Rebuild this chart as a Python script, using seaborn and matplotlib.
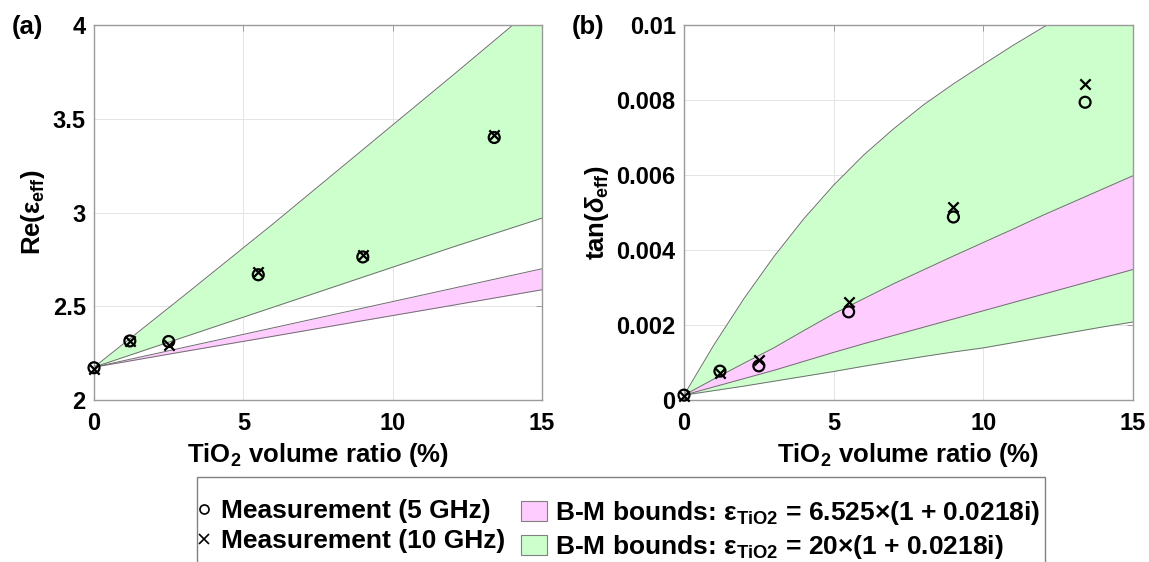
import numpy as np
import pandas as pd
import seaborn as sns
import matplotlib.pyplot as plt
from matplotlib.lines import Line2D
from matplotlib.patches import Patch, Rectangle

# measured points (TiO2 volume ratio in %)
x_meas = [0, 1.2, 2.5, 5.5, 9.0, 13.4]
re_5ghz = [2.172, 2.315, 2.312, 2.668, 2.763, 3.400]
re_10ghz = [2.165, 2.313, 2.295, 2.685, 2.775, 3.415]
tan_5ghz = [0.00013, 0.00077, 0.00091, 0.00235, 0.00488, 0.00794]
tan_10ghz = [0.00012, 0.00072, 0.00108, 0.00261, 0.00514, 0.00843]

# Bergman-Milton bounds, real part
bm_x_re = [0, 3, 6, 9, 12, 15]
re_green_hi = [2.175, 2.555, 2.94, 3.335, 3.73, 4.13]
re_green_lo = [2.175, 2.335, 2.495, 2.655, 2.815, 2.97]
re_pink_hi = [2.175, 2.28, 2.385, 2.49, 2.595, 2.70]
re_pink_lo = [2.175, 2.258, 2.34, 2.423, 2.505, 2.588]

# Bergman-Milton bounds, loss tangent (x1e-3)
bm_x_tan = [0, 1, 2, 3, 4, 5, 6, 7, 8, 9, 10, 11, 12, 13, 14, 15]
tan_green_hi = [0.13, 1.47, 2.70, 3.82, 4.83, 5.73, 6.53, 7.23, 7.87, 8.43,
                8.95, 9.46, 9.94, 10.38, 10.80, 11.20]
tan_pink_hi = [0.13, 0.56, 0.98, 1.39, 1.85, 2.30, 2.70, 3.10, 3.47, 3.84,
               4.20, 4.56, 4.93, 5.28, 5.63, 5.98]
tan_pink_lo = [0.13, 0.35, 0.57, 0.79, 1.03, 1.27, 1.50, 1.72, 1.94, 2.16,
               2.38, 2.60, 2.82, 3.04, 3.26, 3.48]
tan_green_lo = [0.13, 0.25, 0.37, 0.50, 0.63, 0.76, 0.90, 1.03, 1.16, 1.28,
                1.39, 1.53, 1.67, 1.81, 1.95, 2.08]
tan_scale = 1e-3

GREEN = '#ccffcc'
PINK = '#ffccff'
EDGE = '#6e6e6e'
SPINE = '#9a9a9a'

sns.set_theme(style='white')
plt.rcParams['font.family'] = ['Liberation Sans', 'DejaVu Sans']
plt.rcParams['font.weight'] = 'bold'
plt.rcParams['axes.labelweight'] = 'bold'
plt.rcParams['text.color'] = 'black'
plt.rcParams['axes.labelcolor'] = 'black'
plt.rcParams['mathtext.fontset'] = 'custom'
plt.rcParams['mathtext.rm'] = 'Liberation Sans:bold'
plt.rcParams['mathtext.it'] = 'Liberation Sans:bold:italic'
plt.rcParams['mathtext.bf'] = 'Liberation Sans:bold'

fig = plt.figure(figsize=(11.49, 5.62), dpi=100)
ax1 = fig.add_axes([94 / 1149, 1 - 400 / 562, 448 / 1149, 375 / 562])
ax2 = fig.add_axes([684 / 1149, 1 - 400 / 562, 449 / 1149, 375 / 562])


def draw_panel(ax, x, g_lo, g_hi, p_lo, p_hi, y5, y10):
    ax.fill_between(x, g_lo, g_hi, color=GREEN, lw=0, zorder=1)
    ax.fill_between(x, p_lo, p_hi, color=PINK, lw=0, zorder=1.5)
    for yy in (g_lo, g_hi, p_lo, p_hi):
        sns.lineplot(x=x, y=yy, ax=ax, color=EDGE, lw=0.7, zorder=2)
    sns.scatterplot(x=x_meas, y=y5, ax=ax, marker='o', s=62,
                    facecolors='none', edgecolor='black', linewidth=1.6,
                    zorder=4, clip_on=False)
    sns.scatterplot(x=x_meas, y=y10, ax=ax, marker='x', s=55,
                    color='black', linewidth=1.6, zorder=4, clip_on=False)
    ax.set_axisbelow(True)
    ax.grid(True, color='#e4e4e4', lw=0.7)
    for sp in ax.spines.values():
        sp.set_color(SPINE)
        sp.set_linewidth(1.0)
    ax.tick_params(direction='in', length=4, width=0.7, color=SPINE,
                   labelcolor='black', labelsize=17, top=True, right=True, pad=6)
    ax.tick_params(axis='x', pad=9)
    ax.set_xlim(0, 15)
    ax.set_xticks([0, 5, 10, 15])
    ax.set_xlabel(r'TiO$_{\mathrm{2}}$ volume ratio (%)', fontsize=18.5,
                  labelpad=4)


draw_panel(ax1, bm_x_re, re_green_lo, re_green_hi, re_pink_lo, re_pink_hi,
           re_5ghz, re_10ghz)
ax1.set_ylim(2, 4)
ax1.set_yticks([2, 2.5, 3, 3.5, 4], ['2', '2.5', '3', '3.5', '4'])
ax1.set_ylabel(r'Re(ε$_{\mathrm{eff}}$)', fontsize=18.5, labelpad=4)

draw_panel(ax2, bm_x_tan,
           np.array(tan_green_lo) * tan_scale, np.array(tan_green_hi) * tan_scale,
           np.array(tan_pink_lo) * tan_scale, np.array(tan_pink_hi) * tan_scale,
           tan_5ghz, tan_10ghz)
ax2.set_ylim(0, 0.01)
ax2.set_yticks([0, 0.002, 0.004, 0.006, 0.008, 0.01],
               ['0', '0.002', '0.004', '0.006', '0.008', '0.01'])
ax2.set_ylabel(r'tan($\delta_{\mathrm{eff}}$)', fontsize=18.5, labelpad=4)

fig.text(12 / 1149, 1 - 27 / 562, '(a)', fontsize=18.5, va='center', ha='left')
fig.text(572 / 1149, 1 - 27 / 562, '(b)', fontsize=18.5, va='center', ha='left')

# legend box (bottom cut by the figure edge as in the reference)
fig.add_artist(Rectangle((197 / 1149, -0.05), (1045 - 197) / 1149,
                         (1 - 477 / 562) + 0.05, transform=fig.transFigure,
                         fill=True, facecolor='white', edgecolor='#808080',
                         lw=1.0, zorder=0))

h5 = Line2D([], [], ls='none', marker='o', mfc='none', mec='black', ms=6.5, mew=1.2)
h10 = Line2D([], [], ls='none', marker='x', color='black', ms=6.5, mew=1.2)
fig.legend([h5, h10], ['Measurement (5 GHz)', 'Measurement (10 GHz)'],
           loc='upper left', bbox_to_anchor=(197 / 1149, 1 - 499 / 562),
           frameon=False, fontsize=19, handlelength=0.5, handletextpad=0.4,
           borderpad=0, borderaxespad=0, labelspacing=0.22)

hp = Patch(facecolor=PINK, edgecolor='#808080', lw=0.8)
hg = Patch(facecolor=GREEN, edgecolor='#808080', lw=0.8)
fig.legend([hp, hg],
           [r'B-M bounds: ε$_{\mathrm{TiO2}}$ = 6.525×(1 + 0.0218i)',
            r'B-M bounds: ε$_{\mathrm{TiO2}}$ = 20×(1 + 0.0218i)'],
           loc='upper left', bbox_to_anchor=(521 / 1149, 1 - 499 / 562),
           frameon=False, fontsize=19, handlelength=1.0, handleheight=0.8,
           handletextpad=0.3, borderpad=0, borderaxespad=0, labelspacing=0.22)

fig.savefig('out.png', dpi=100)
